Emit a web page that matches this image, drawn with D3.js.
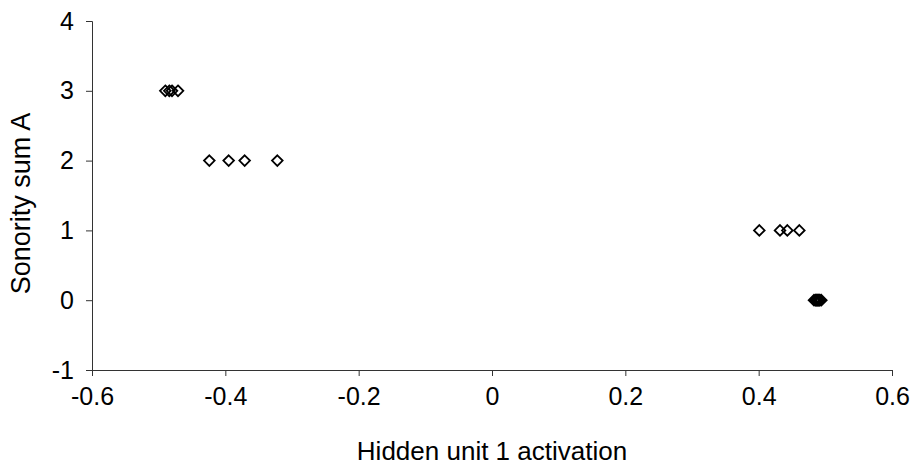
<!DOCTYPE html>
<html>
<head>
<meta charset="utf-8">
<script src="https://cdn.jsdelivr.net/npm/d3@7"></script>
<style>
  html, body { margin: 0; padding: 0; background: #fff; }
  svg { display: block; }
  text { font-family: "Liberation Sans", Arial, sans-serif; fill: #000; }
</style>
</head>
<body>
<svg id="chart" width="913" height="466"></svg>
<script>
// Hidden unit 1 activation for each item, grouped by its sonority sum A
const sonority3 = [-0.490, -0.484, -0.480, -0.471];
const sonority2 = [-0.424, -0.395, -0.371, -0.322];
const sonority1 = [0.401, 0.432, 0.443, 0.461];
const sonority0 = [0.483, 0.485, 0.486, 0.487, 0.488, 0.489, 0.490, 0.491, 0.492, 0.494];

const xTicks = [-0.6, -0.4, -0.2, 0, 0.2, 0.4, 0.6];
const yTicks = [-1, 0, 1, 2, 3, 4];
const xTitle = "Hidden unit 1 activation";
const yTitle = "Sonority sum A";

const points = [
  ...sonority3.map(x => ({ x, y: 3 })),
  ...sonority2.map(x => ({ x, y: 2 })),
  ...sonority1.map(x => ({ x, y: 1 })),
  ...sonority0.map(x => ({ x, y: 0 }))
];

const svg = d3.select("#chart");
const plot = { left: 92, right: 892, top: 21, bottom: 370 };

const x = d3.scaleLinear().domain([-0.6, 0.6]).range([plot.left, plot.right]);
const y = d3.scaleLinear().domain([-1, 4]).range([plot.bottom, plot.top]);

// plain hyphen-minus, as in spreadsheet labels
const fmt = d => String(+d.toFixed(1));

// x axis
const gx = svg.append("g")
  .attr("transform", `translate(0,${plot.bottom})`)
  .call(d3.axisBottom(x).tickValues(xTicks).tickSize(6).tickPadding(11).tickFormat(fmt));

// y axis
const gy = svg.append("g")
  .attr("transform", `translate(${plot.left},0)`)
  .call(d3.axisLeft(y).tickValues(yTicks).tickSize(6).tickPadding(12).tickFormat(fmt));

[gx, gy].forEach(g => {
  g.select(".domain").attr("stroke", "#333").attr("stroke-width", 1);
  g.selectAll(".tick line").attr("stroke", "#333").attr("stroke-width", 1);
  g.selectAll(".tick text")
    .style("font-family", '"Liberation Sans", Arial, sans-serif')
    .style("font-size", "25px")
    .attr("fill", "#000");
});

// markers: open diamonds
const diamond = d3.symbol().type(d3.symbolDiamond2).size(72);
svg.append("g")
  .selectAll("path")
  .data(points)
  .join("path")
  .attr("d", diamond)
  .attr("transform", d => `translate(${x(d.x)},${y(d.y)})`)
  .attr("fill", "none")
  .attr("stroke", "#000")
  .attr("stroke-width", 1.8);

// axis titles
svg.append("text")
  .attr("x", (plot.left + plot.right) / 2)
  .attr("y", 453)
  .attr("text-anchor", "middle")
  .attr("dominant-baseline", "middle")
  .style("font-size", "26px")
  .text(xTitle);

svg.append("text")
  .attr("transform", `translate(23,${(plot.top + plot.bottom) / 2 + 8}) rotate(-90)`)
  .attr("text-anchor", "middle")
  .attr("dominant-baseline", "middle")
  .style("font-size", "27px")
  .text(yTitle);
</script>
</body>
</html>
